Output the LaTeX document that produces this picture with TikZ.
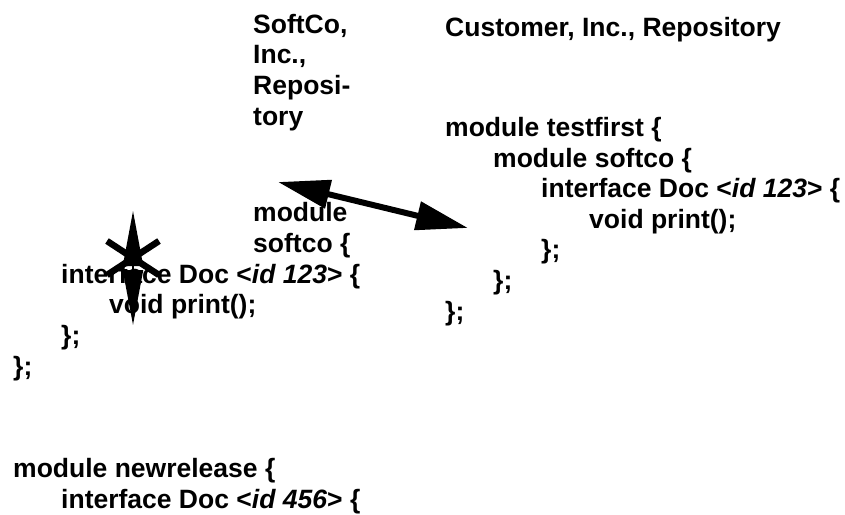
\documentclass[tikz,border=0pt]{standalone}
\usepackage{fontspec}
\setmainfont{Liberation Sans}
\usepackage{tikz}
\usetikzlibrary{arrows.meta,positioning}

\begin{document}
\begin{tikzpicture}[x=1pt,y=-1pt,
		code/.style={anchor=base west,inner sep=0,align=left,font=\fontsize{26.5}{30.6}\selectfont\bfseries},
		link/.style={line width=6pt,{Triangle[length=52pt,width=28pt]}-{Triangle[length=52pt,width=28pt]}},
		move/.style={line width=2pt,{Triangle[length=55pt,width=20pt]}-{Triangle[length=55pt,width=20pt]}},
		cross/.style={line width=6.5pt}]
		\useasboundingbox (0,0) rectangle (845,514);
		% SoftCo side (base = last line)
		\node(softhead) [code] at (253,125) {SoftCo,\\Inc.,\\Reposi-\\tory};
		\node(softmod) [code] at (253,252) {module\\softco \{};
		\node(softdoc) [code] at (13,375) {\hspace*{48pt}interface Doc <\textit{id 123}> \{\\\hspace*{96pt}void print();\\\hspace*{48pt}\};\\\};};
		\node(newrel) [code] at (13,508) {module newrelease \{\\\hspace*{48pt}interface Doc <\textit{id 456}> \{};
		% Customer side
		\node(custhead) [code] at (445,36) {Customer, Inc., Repository};
		\node(custdoc) [code] at (445,320) {module testfirst \{\\\hspace*{48pt}module softco \{\\\hspace*{96pt}interface Doc <\textit{id 123}> \{\\\hspace*{144pt}void print();\\\hspace*{96pt}\};\\\hspace*{48pt}\};\\\};};
		% arrows
		\coordinate(l1) at (278,182);
		\coordinate(l2) at (468,228);
		\draw [link] (l1) -- (l2);
		\coordinate(m1) at (133,211);
		\coordinate(m2) at (133,325);
		\draw [move] (m1) -- (m2);
		\coordinate(x) at (133,258);
		\draw [cross] (x) ++(-26,-17) -- ++(52,34);
		\draw [cross] (x) ++(26,-17) -- ++(-52,34);
	\end{tikzpicture}
\end{document}
